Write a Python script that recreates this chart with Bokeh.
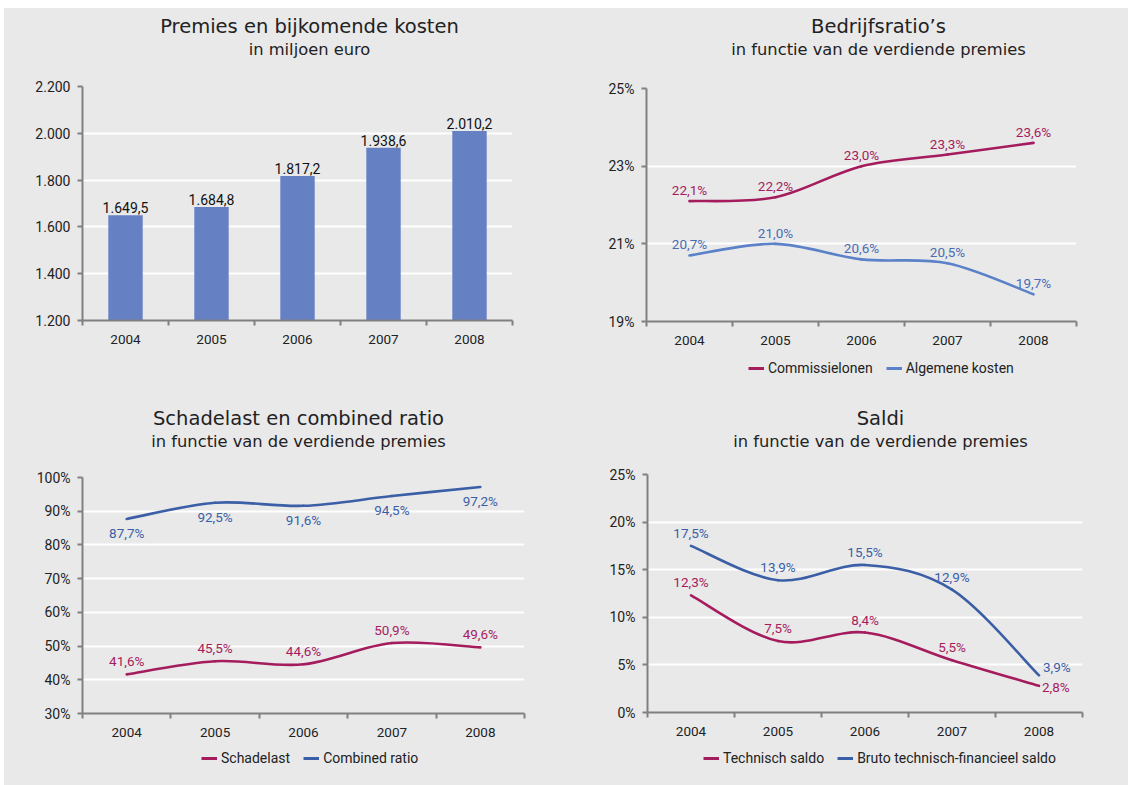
from bokeh.plotting import figure
from bokeh.models import Range1d, FixedTicker, Legend, LegendItem
from bokeh.layouts import column, row
from bokeh.core.properties import value
from bokeh.embed import file_html
from bokeh.resources import INLINE

# ---- data -------------------------------------------------------------
years = ["2004", "2005", "2006", "2007", "2008"]

premies = [1649.5, 1684.8, 1817.2, 1938.6, 2010.2]
premies_ticks = [1200, 1400, 1600, 1800, 2000, 2200]

commissielonen = [22.1, 22.2, 23.0, 23.3, 23.6]
algemene_kosten = [20.7, 21.0, 20.6, 20.5, 19.7]
ratio_ticks = [19, 21, 23, 25]

schadelast = [41.6, 45.5, 44.6, 50.9, 49.6]
combined_ratio = [87.7, 92.5, 91.6, 94.5, 97.2]
schade_ticks = [30, 40, 50, 60, 70, 80, 90, 100]

technisch_saldo = [12.3, 7.5, 8.4, 5.5, 2.8]
bruto_saldo = [17.5, 13.9, 15.5, 12.9, 3.9]
saldi_ticks = [0, 5, 10, 15, 20, 25]

# ---- styling ----------------------------------------------------------
BG = "#e9e9ea"
AXIS = "#808080"
TEXT = "#222222"
MAGENTA = "#a51c5e"
LIGHT_BLUE = "#5b81c8"
DARK_BLUE = "#3b5fa6"
BAR = "#6680c4"
TITLE_FONT = "DejaVu Sans"
NUM_FONT = "Roboto"

xs = list(range(len(years)))


def nl(v, decimals=0):
    s = f"{v:,.{decimals}f}"
    return s.replace(",", "#").replace(".", ",").replace("#", ".")


def pct(v):
    return nl(v, 1) + "%"


def blank_fig(width, height):
    """A figure without axes whose frame fills the whole canvas (1 unit = 1 px)."""
    p = figure(width=width, height=height, min_border=0,
               x_range=Range1d(0, width), y_range=Range1d(0, height),
               x_axis_type=None, y_axis_type=None,
               toolbar_location=None, output_backend="svg",
               background_fill_color=BG, border_fill_color=BG,
               outline_line_color=None, frame_align=False)
    p.grid.visible = False
    return p


def heading(width, height, title, subtitle, cx, title_y, sub_y):
    p = blank_fig(width, height)
    p.text(x=[cx], y=[height - title_y], text=[title],
           text_align="center", text_baseline="middle",
           text_font=value(TITLE_FONT), text_font_size=value("19.5px"),
           text_color=TEXT)
    p.text(x=[cx], y=[height - sub_y], text=[subtitle],
           text_align="center", text_baseline="middle",
           text_font=value(TITLE_FONT), text_font_size=value("16.3px"),
           text_color=TEXT)
    return p


def chart(frame_w, frame_h, left, right, top, bottom, ticks, y_labels):
    p = figure(width=left + frame_w + right, height=top + frame_h + bottom,
               min_border_left=left, min_border_right=right,
               min_border_top=top, min_border_bottom=bottom,
               x_range=Range1d(-0.5, len(years) - 0.5),
               y_range=Range1d(ticks[0], ticks[-1]),
               toolbar_location=None, output_backend="svg",
               background_fill_color=BG, border_fill_color=BG,
               outline_line_color=None, frame_align=False)

    # x axis: labels at category centres, tick marks between categories
    xa = p.xaxis[0]
    xa.ticker = FixedTicker(ticks=xs,
                            minor_ticks=[i - 0.5 for i in range(len(years) + 1)])
    xa.major_label_overrides = {i: y for i, y in enumerate(years)}
    xa.major_tick_line_color = None
    xa.major_tick_out = 0
    xa.major_tick_in = 0
    xa.minor_tick_line_color = AXIS
    xa.minor_tick_line_width = 2
    xa.minor_tick_out = 5
    xa.minor_tick_in = 0
    xa.major_label_standoff = 9
    xa.major_label_text_font = NUM_FONT
    xa.major_label_text_font_size = "13.5px"
    xa.major_label_text_color = TEXT
    xa.axis_line_color = AXIS
    xa.axis_line_width = 2

    ya = p.yaxis[0]
    ya.ticker = FixedTicker(ticks=ticks, minor_ticks=[])
    ya.major_label_overrides = {t: lab for t, lab in zip(ticks, y_labels)}
    ya.major_tick_line_color = AXIS
    ya.major_tick_line_width = 2
    ya.major_tick_out = 5
    ya.major_tick_in = 0
    ya.major_label_standoff = 7
    ya.major_label_text_font = NUM_FONT
    ya.major_label_text_font_size = "14px"
    ya.major_label_text_color = TEXT
    ya.axis_line_color = AXIS
    ya.axis_line_width = 2

    p.xgrid.grid_line_color = None
    p.ygrid.ticker = FixedTicker(ticks=ticks, minor_ticks=[])
    p.ygrid.grid_line_color = "white"
    p.ygrid.grid_line_width = 2
    return p


def smooth_line(p, ys, color):
    """Smoothed line through the points as cubic Bezier segments."""
    n = len(ys)
    seg = dict(x0=[], y0=[], x1=[], y1=[], cx0=[], cy0=[], cx1=[], cy1=[])
    for i in range(n - 1):
        a = max(i - 1, 0)
        d = min(i + 2, n - 1)
        seg["x0"].append(xs[i]); seg["y0"].append(ys[i])
        seg["x1"].append(xs[i + 1]); seg["y1"].append(ys[i + 1])
        seg["cx0"].append(xs[i] + (xs[i + 1] - xs[a]) / 6)
        seg["cy0"].append(ys[i] + (ys[i + 1] - ys[a]) / 6)
        seg["cx1"].append(xs[i + 1] - (xs[d] - xs[i]) / 6)
        seg["cy1"].append(ys[i + 1] - (ys[d] - ys[i]) / 6)
    return p.bezier(source=seg, x0="x0", y0="y0", x1="x1", y1="y1",
                    cx0="cx0", cy0="cy0", cx1="cx1", cy1="cy1",
                    line_color=color, line_width=2.6, line_cap="round")


def value_labels(p, x, ys, color, baseline, y_offset, align="center", x_offset=0):
    p.text(x=x, y=ys, text=[pct(v) for v in ys],
           text_align=align, text_baseline=baseline,
           x_offset=x_offset, y_offset=y_offset,
           text_font=value(NUM_FONT), text_font_size=value("13.5px"),
           text_color=color)


def legend_strip(width, height, entries, left, centre_from_top):
    """Horizontal legend drawn in its own strip under a chart."""
    p = blank_fig(width, height)
    nan = float("nan")
    items = []
    for label, color in entries:
        # legend swatch only: a line without drawable points
        r = p.line(x=[nan], y=[nan], line_color=color, line_width=3)
        items.append(LegendItem(label=label, renderers=[r]))
    legend = Legend(items=items, orientation="horizontal",
                    location=(left, height - centre_from_top - 10),
                    background_fill_alpha=0, border_line_color=None,
                    label_text_font=NUM_FONT, label_text_font_size="14px",
                    label_text_color=TEXT, glyph_width=16, glyph_height=20,
                    label_height=20, label_standoff=4, spacing=13,
                    padding=0, margin=0)
    p.add_layout(legend, "center")
    return p


# ---- Premies en bijkomende kosten -------------------------------------
h1 = heading(558, 68, "Premies en bijkomende kosten", "in miljoen euro", 305, 18, 41)
p1 = chart(430, 234, 78, 50, 10, 70, premies_ticks, [nl(t) for t in premies_ticks])
p1.vbar(x=xs, top=premies, bottom=premies_ticks[0], width=0.4,
        fill_color=BAR, line_color=None)
p1.text(x=xs, y=premies, text=[nl(v, 1) for v in premies],
        text_align="center", text_baseline="bottom", y_offset=-2,
        text_font=value(NUM_FONT), text_font_size=value("14px"),
        text_color="#111111")
q1 = column(h1, p1, styles={"background-color": BG})

# ---- Bedrijfsratio's --------------------------------------------------
h2 = heading(566, 70, "Bedrijfsratio\u2019s", "in functie van de verdiende premies",
             316, 18, 41)
p2 = chart(430, 233, 84, 52, 10, 32, ratio_ticks, [f"{t}%" for t in ratio_ticks])
smooth_line(p2, commissielonen, MAGENTA)
smooth_line(p2, algemene_kosten, LIGHT_BLUE)
value_labels(p2, xs, commissielonen, MAGENTA, "bottom", -3)
value_labels(p2, xs, algemene_kosten, "#4a6db3", "bottom", -3)
l2 = legend_strip(566, 37, [("Commissielonen", MAGENTA),
                            ("Algemene kosten", LIGHT_BLUE)], 186, 15)
q2 = column(h2, p2, l2, styles={"background-color": BG})

# ---- Schadelast en combined ratio -------------------------------------
h3 = heading(558, 77, "Schadelast en combined ratio",
             "in functie van de verdiende premies", 294, 28, 51)
p3 = chart(442, 236, 78, 38, 10, 32, schade_ticks, [f"{t}%" for t in schade_ticks])
smooth_line(p3, schadelast, MAGENTA)
smooth_line(p3, combined_ratio, DARK_BLUE)
value_labels(p3, xs, schadelast, MAGENTA, "bottom", -5)
value_labels(p3, xs, combined_ratio, DARK_BLUE, "top", 6)
l3 = legend_strip(558, 40, [("Schadelast", MAGENTA),
                            ("Combined ratio", DARK_BLUE)], 197, 13)
q3 = column(h3, p3, l3, styles={"background-color": BG})

# ---- Saldi ------------------------------------------------------------
h4 = heading(566, 74, "Saldi", "in functie van de verdiende premies", 318, 28, 51)
p4 = chart(435, 238, 85, 46, 10, 32, saldi_ticks, [f"{t}%" for t in saldi_ticks])
smooth_line(p4, technisch_saldo, MAGENTA)
smooth_line(p4, bruto_saldo, DARK_BLUE)
value_labels(p4, xs[:-1], technisch_saldo[:-1], MAGENTA, "bottom", -5)
value_labels(p4, xs[:-1], bruto_saldo[:-1], DARK_BLUE, "bottom", -5)
value_labels(p4, xs[-1:], technisch_saldo[-1:], MAGENTA, "middle", 1, "left", 3)
value_labels(p4, xs[-1:], bruto_saldo[-1:], DARK_BLUE, "middle", -8, "left", 4)
l4 = legend_strip(566, 41, [("Technisch saldo", MAGENTA),
                            ("Bruto technisch-financieel saldo", DARK_BLUE)], 141, 14)
q4 = column(h4, p4, l4, styles={"background-color": BG})

layout = column(row(q1, q2, styles={"background-color": BG}),
                row(q3, q4, styles={"background-color": BG}),
                margin=(8, 0, 0, 4), styles={"background-color": BG})

open("out.html", "w").write(file_html(layout, INLINE))
